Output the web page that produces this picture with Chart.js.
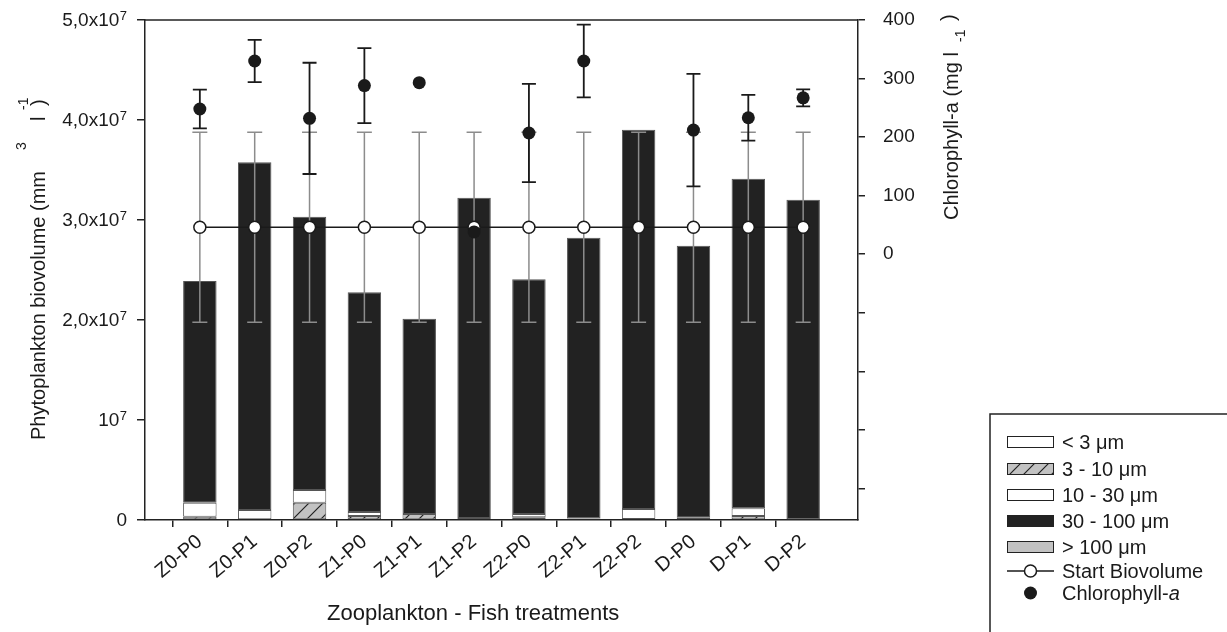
<!DOCTYPE html>
<html>
<head>
<meta charset="utf-8">
<script src="https://cdn.jsdelivr.net/npm/chart.js@4.4.1/dist/chart.umd.min.js"></script>
<style>
  html, body { margin: 0; padding: 0; background: #fff; }
  #wrap { width: 1227px; height: 632px; position: relative; }
</style>
</head>
<body>
<div id="wrap"><canvas id="c" width="1227" height="632"></canvas></div>
<script>
// Treatments (zooplankton level - fish level)
const treatments = ['Z0-P0', 'Z0-P1', 'Z0-P2', 'Z1-P0', 'Z1-P1', 'Z1-P2',
                    'Z2-P0', 'Z2-P1', 'Z2-P2', 'D-P0', 'D-P1', 'D-P2'];

// Phytoplankton biovolume per size class (mm3 l-1)
const under3um     = [0, 0, 0, 0, 0, 0, 0, 0, 0, 0, 0, 0];
const from3to10um  = [0.033e7, 0.007e7, 0.173e7, 0.040e7, 0.060e7, 0, 0.027e7, 0.015e7, 0.010e7, 0.023e7, 0.040e7, 0];
const from10to30um = [0.140e7, 0.093e7, 0.127e7, 0.040e7, 0, 0.020e7, 0.033e7, 0, 0.100e7, 0, 0.077e7, 0];
const from30to100um = [2.217e7, 3.477e7, 2.733e7, 2.197e7, 1.953e7, 3.203e7, 2.347e7, 2.808e7, 3.793e7, 2.720e7, 3.296e7, 3.203e7];
const over100um    = [0, 0, 0, 0, 0, 0, 0, 0, 0, 0, 0, 0];

// Biovolume at the start of the experiment (mean and error)
const startBiovolume    = [2.927e7, 2.927e7, 2.927e7, 2.927e7, 2.927e7, 2.927e7, 2.927e7, 2.927e7, 2.927e7, 2.927e7, 2.927e7, 2.927e7];
const startBiovolumeErr = [0.95e7, 0.95e7, 0.95e7, 0.95e7, 0.95e7, 0.95e7, 0.95e7, 0.95e7, 0.95e7, 0.95e7, 0.95e7, 0.95e7];

// Chlorophyll-a (mg l-1, right axis)
const chlorophyll    = [248, 330, 232, 288, 293, 38, 207, 330, null, 212, 233, 267];
const chlorophyllErr = [33, 36, 95, 64, null, null, 84, 62, null, 96, 39, 14.5];

// Left axis tick labels: [base text, superscript]
const leftTickLabels = [['0', ''], ['10', '7'], ['2,0x10', '7'], ['3,0x10', '7'], ['4,0x10', '7'], ['5,0x10', '7']];

const FONT = '"Liberation Sans", Arial, Helvetica, sans-serif';
const INK = '#1a1a1a';

// the x axis keeps an empty slot on each side of the treatments
const padded = arr => [null, ...arr, null];
const xLabels = ['', ...treatments, ''];

const canvas = document.getElementById('c');
const ctx = canvas.getContext('2d');

function hatchPattern() {
  const s = 14;
  const c = document.createElement('canvas');
  c.width = s; c.height = s;
  const g = c.getContext('2d');
  g.fillStyle = '#c2c2c2';
  g.fillRect(0, 0, s, s);
  g.strokeStyle = '#222';
  g.lineWidth = 1.2;
  g.beginPath();
  g.moveTo(-s / 2, s / 2); g.lineTo(s / 2, -s / 2);
  g.moveTo(0, s); g.lineTo(s, 0);
  g.moveTo(s / 2, s * 1.5); g.lineTo(s * 1.5, s / 2);
  g.stroke();
  return ctx.createPattern(c, 'repeat');
}
const hatch = hatchPattern();

const barBase = { type: 'bar', yAxisID: 'y', stack: 'bio', borderColor: '#555', borderWidth: 1,
                  borderSkipped: false, order: 2, categoryPercentage: 1, barPercentage: 0.61 };

const datasets = [
  { ...barBase, label: '< 3 μm',      data: padded(under3um),      backgroundColor: '#ffffff' },
  { ...barBase, label: '3 - 10 μm',   data: padded(from3to10um),   backgroundColor: hatch },
  { ...barBase, label: '10 - 30 μm',  data: padded(from10to30um),  backgroundColor: '#ffffff' },
  { ...barBase, label: '30 - 100 μm', data: padded(from30to100um), backgroundColor: '#222222' },
  { ...barBase, label: '> 100 μm',    data: padded(over100um),     backgroundColor: '#c2c2c2' },
  { type: 'line', label: 'Start Biovolume', yAxisID: 'y', order: 1,
    data: padded(startBiovolume), errors: padded(startBiovolumeErr),
    errorColor: '#8c8c8c', errorWidth: 1.5, capHalf: 7.5,
    borderColor: INK, borderWidth: 1.5, pointRadius: 6, pointBackgroundColor: '#ffffff',
    pointBorderColor: INK, pointBorderWidth: 1.5, tension: 0 },
  { type: 'line', label: 'Chlorophyll-a', yAxisID: 'y2', order: 0,
    data: padded(chlorophyll), errors: padded(chlorophyllErr),
    errorColor: INK, errorWidth: 1.8, capHalf: 7,
    showLine: false, pointRadius: 6.5, pointBackgroundColor: INK, pointBorderColor: INK, pointBorderWidth: 0 }
];

// vertical error bars, drawn just under each dataset's own markers
const errorBars = {
  id: 'errorBars',
  beforeDatasetDraw(chart, args) {
    const ds = chart.data.datasets[args.index];
    if (!ds.errors) return;
    const ys = chart.scales[ds.yAxisID];
    const c = chart.ctx;
    c.save();
    c.strokeStyle = ds.errorColor;
    c.lineWidth = ds.errorWidth;
    args.meta.data.forEach((pt, i) => {
      const v = ds.data[i], e = ds.errors[i];
      if (v == null || !e) return;
      const x = pt.x;
      const yTop = ys.getPixelForValue(v + e);
      const yBot = ys.getPixelForValue(v - e);
      c.beginPath();
      c.moveTo(x, yTop); c.lineTo(x, yBot);
      c.moveTo(x - ds.capHalf, yTop); c.lineTo(x + ds.capHalf, yTop);
      c.moveTo(x - ds.capHalf, yBot); c.lineTo(x + ds.capHalf, yBot);
      c.stroke();
    });
    c.restore();
  }
};

function drawPieces(c, x, y, pieces) {
  c.save();
  c.translate(x, y);
  c.rotate(-Math.PI / 2);
  c.textAlign = 'left';
  c.textBaseline = 'alphabetic';
  pieces.forEach(([text, px, py, size]) => {
    c.font = size + 'px ' + FONT;
    c.fillText(text, px, py);
  });
  c.restore();
}

// frame top, left tick labels with exponents, axis titles and the key
const decorations = {
  id: 'decorations',
  afterDraw(chart) {
    const c = chart.ctx;
    const area = chart.chartArea;
    c.save();
    c.fillStyle = INK;
    c.strokeStyle = '#222';

    // top edge of the frame
    c.lineWidth = 1.5;
    c.beginPath();
    c.moveTo(area.left, area.top); c.lineTo(area.right, area.top);
    c.stroke();

    // left tick labels
    const ys = chart.scales.y;
    c.textBaseline = 'middle';
    ys.ticks.forEach((t, i) => {
      const lab = leftTickLabels[i];
      if (!lab) return;
      const y = ys.getPixelForValue(t.value);
      c.font = '19px ' + FONT;
      const wBase = c.measureText(lab[0]).width;
      c.font = '13px ' + FONT;
      const wSup = lab[1] ? c.measureText(lab[1]).width + 0.5 : 0;
      const right = 127;
      c.font = '19px ' + FONT;
      c.textAlign = 'left';
      c.fillText(lab[0], right - wSup - wBase, y + 1);
      if (lab[1]) {
        c.font = '13px ' + FONT;
        c.fillText(lab[1], right - wSup + 0.5, y - 4);
      }
    });

    // axis titles
    c.textBaseline = 'alphabetic';
    c.textAlign = 'left';
    c.font = '22px ' + FONT;
    c.fillText('Zooplankton - Fish treatments', 327, 620);

    drawPieces(c, 45, 440, [
      ['Phytoplankton biovolume (mm', 0, 0, 20],
      ['3', 290, -19, 14],
      ['l', 319, 0, 20],
      ['-1', 330, -17, 14],
      [')', 334, 0, 20]
    ]);
    drawPieces(c, 958, 220, [
      ['Chlorophyll-a (mg l', 0, 0, 20],
      ['-1', 178, 7, 14],
      [')', 199, -3, 20]
    ]);

    // key
    c.lineWidth = 1.5;
    c.strokeRect(990, 414, 300, 300);
    const rows = [442, 469, 495, 521, 547, 571, 593];
    const sx = 1007, sw = 47, sh = 12, tx = 1062;
    c.textBaseline = 'middle';
    c.font = '20px ' + FONT;
    for (let i = 0; i < 5; i++) {
      const ds = chart.data.datasets[i];
      c.fillStyle = ds.backgroundColor;
      c.fillRect(sx, rows[i] - sh / 2, sw, sh);
      c.lineWidth = 1;
      c.strokeStyle = '#222';
      c.strokeRect(sx + 0.5, rows[i] - sh / 2 + 0.5, sw - 1, sh - 1);
      c.fillStyle = INK;
      c.fillText(ds.label, tx, rows[i] + 1);
    }
    // start biovolume symbol
    const yS = rows[5];
    c.strokeStyle = INK;
    c.lineWidth = 1.5;
    c.beginPath(); c.moveTo(sx, yS); c.lineTo(sx + sw, yS); c.stroke();
    c.fillStyle = '#fff';
    c.beginPath(); c.arc(sx + sw / 2, yS, 6, 0, Math.PI * 2); c.fill(); c.stroke();
    c.fillStyle = INK;
    c.fillText('Start Biovolume', tx, yS + 1);
    // chlorophyll symbol
    const yC = rows[6];
    c.beginPath(); c.arc(sx + sw / 2, yC, 6.5, 0, Math.PI * 2); c.fill();
    c.fillText('Chlorophyll-', tx, yC + 1);
    const wC = c.measureText('Chlorophyll-').width;
    c.font = 'italic 20px ' + FONT;
    c.fillText('a', tx + wC, yC + 1);

    c.restore();
  }
};

// fixed frame: the plot area runs from x 145 to 858 and y 20 to 520
const noLabelPadding = s => { s.paddingTop = 0; s.paddingBottom = 0; s.paddingLeft = 0; s.paddingRight = 0; };

new Chart(canvas, {
  data: { labels: xLabels, datasets },
  options: {
    responsive: false,
    animation: false,
    events: [],
    layout: { padding: { top: 20, left: 0, right: 0, bottom: 0 } },
    plugins: { legend: { display: false }, tooltip: { enabled: false } },
    scales: {
      x: {
        type: 'category',
        offset: false,
        grid: {
          drawOnChartArea: false, tickLength: 7, lineWidth: 1.5,
          tickColor: ctx => (ctx.index === 0 || ctx.index === xLabels.length - 1) ? 'rgba(0,0,0,0)' : '#222'
        },
        border: { display: true, color: '#222', width: 1.5 },
        ticks: { autoSkip: false, maxRotation: 40, minRotation: 40, padding: 3, color: INK,
                 font: { family: FONT, size: 20 } },
        afterFit: s => { s.height = 112; noLabelPadding(s); }
      },
      y: {
        position: 'left',
        min: 0, max: 5e7,
        grid: { drawOnChartArea: false, tickLength: 8, lineWidth: 1.5, tickColor: '#222' },
        border: { display: true, color: '#222', width: 1.5 },
        ticks: { stepSize: 1e7, display: false },
        afterFit: s => { s.width = 145; noLabelPadding(s); }
      },
      y2: {
        position: 'right',
        min: -454, max: 400,
        grid: { drawOnChartArea: false, tickLength: 7, lineWidth: 1.5, tickColor: '#222' },
        border: { display: true, color: '#222', width: 1.5 },
        ticks: { stepSize: 100, includeBounds: false, padding: 18, color: INK,
                 font: { family: FONT, size: 19 },
                 callback: v => (v < 0 ? '' : String(v)) },
        afterFit: s => { s.width = 369; noLabelPadding(s); }
      }
    }
  },
  plugins: [errorBars, decorations]
});
</script>
</body>
</html>
